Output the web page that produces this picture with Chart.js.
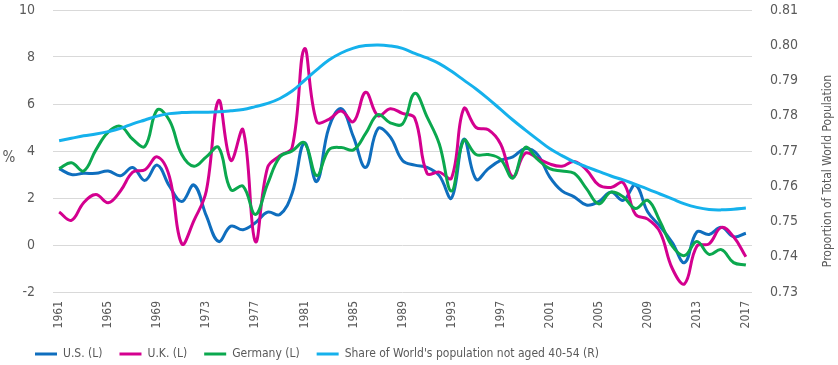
<!DOCTYPE html>
<html>
<head>
<meta charset="utf-8">
<script src="https://cdn.jsdelivr.net/npm/chart.js@4.4.1/dist/chart.umd.min.js"></script>
<style>
html, body { margin: 0; padding: 0; background: #fff; }
</style>
</head>
<body>
<canvas id="chart" width="838" height="365"></canvas>
<script>
const years = ['1961','1962','1963','1964','1965','1966','1967','1968','1969','1970',
  '1971','1972','1973','1974','1975','1976','1977','1978','1979','1980',
  '1981','1982','1983','1984','1985','1986','1987','1988','1989','1990',
  '1991','1992','1993','1994','1995','1996','1997','1998','1999','2000',
  '2001','2002','2003','2004','2005','2006','2007','2008','2009','2010',
  '2011','2012','2013','2014','2015','2016','2017'];

const shownYears = ['1961','1965','1969','1973','1977','1981','1985','1989',
  '1993','1997','2001','2005','2009','2013','2017'];

const usVals = [3.25, 3.0, 3.05, 3.05, 3.15, 2.95, 3.3, 2.75, 3.4, 2.5,
  1.85, 2.55, 1.25, 0.15, 0.8, 0.65, 0.95, 1.4, 1.3, 2.2,
  4.35, 2.7, 5.0, 5.8, 4.6, 3.3, 4.95, 4.6, 3.6, 3.4,
  3.3, 2.95, 2.0, 4.5, 2.8, 3.25, 3.6, 3.75, 4.1, 3.85,
  2.9, 2.3, 2.05, 1.7, 1.85, 2.25, 1.9, 2.55, 1.4, 0.8,
  0.1, -0.75, 0.55, 0.45, 0.75, 0.35, 0.5];

const ukVals = [1.4, 1.05, 1.8, 2.15, 1.8, 2.3, 3.1, 3.2, 3.75, 2.9,
  0.05, 1.05, 2.3, 6.15, 3.6, 4.9, 0.15, 3.3, 3.8, 4.15,
  8.35, 5.25, 5.35, 5.7, 5.25, 6.5, 5.5, 5.8, 5.6, 5.4,
  3.05, 3.1, 2.85, 5.8, 5.0, 4.9, 4.3, 2.9, 3.9, 3.7,
  3.45, 3.35, 3.55, 3.2, 2.55, 2.45, 2.65, 1.3, 1.1, 0.55,
  -1.0, -1.65, -0.05, 0.05, 0.75, 0.35, -0.5];

const germanyVals = [3.25, 3.5, 3.15, 4.05, 4.8, 5.05, 4.5, 4.2, 5.75, 5.3,
  3.85, 3.35, 3.75, 4.15, 2.35, 2.5, 1.3, 2.6, 3.75, 4.0,
  4.35, 2.95, 4.05, 4.15, 4.05, 4.75, 5.55, 5.2, 5.15, 6.45,
  5.45, 4.3, 2.3, 4.45, 3.85, 3.85, 3.65, 2.85, 4.15, 3.65,
  3.25, 3.15, 3.05, 2.4, 1.75, 2.25, 2.05, 1.55, 1.9, 1.0,
  -0.05, -0.45, 0.15, -0.4, -0.2, -0.75, -0.85];

const shareVals = [0.7729, 0.7736, 0.7743, 0.7748, 0.7755, 0.7764, 0.7777, 0.7788, 0.7799, 0.7806,
  0.7809, 0.7810, 0.7810, 0.7811, 0.7814, 0.7818, 0.7826, 0.7835, 0.7849, 0.7870,
  0.7900, 0.7930, 0.7958, 0.7978, 0.7992, 0.7999, 0.8001, 0.7998, 0.7991, 0.7977,
  0.7964, 0.7948, 0.7926, 0.7901, 0.7876, 0.7848, 0.7818, 0.7788, 0.7760, 0.7733,
  0.7707, 0.7687, 0.7669, 0.7655, 0.7642, 0.7629, 0.7618, 0.7605, 0.7592, 0.7578,
  0.7564, 0.7550, 0.7540, 0.7534, 0.7533, 0.7535, 0.7538];

const seriesNames = ['U.S. (L)', 'U.K. (L)', 'Germany (L)', "Share of World's population not aged 40-54 (R)"];
const seriesColors = ['#0f6ebe', '#d4008f', '#0ba84e', '#15b1ec'];

const fontFamily = '"Liberation Sans Narrow", "DejaVu Sans Condensed", sans-serif';
const textColor = '#5a5a5a';
Chart.defaults.font.family = fontFamily;
Chart.defaults.color = textColor;

function lineSet(i, values, axis, order) {
  return {
    label: seriesNames[i],
    data: values,
    yAxisID: axis,
    borderColor: seriesColors[i],
    backgroundColor: seriesColors[i],
    borderWidth: 3,
    pointRadius: 0,
    pointHoverRadius: 0,
    tension: 0.4,
    fill: false,
    order: order
  };
}

// "%" on the left and the rotated right-hand title
const axisTitles = {
  id: 'axisTitles',
  afterDraw(chart) {
    const c = chart.ctx;
    const y = chart.scales.y;
    c.save();
    c.fillStyle = textColor;
    c.textAlign = 'center';
    c.textBaseline = 'middle';
    c.font = '15px ' + fontFamily;
    c.fillText('%', 9, y.getPixelForValue(3.7));
    c.translate(828, 171);
    c.rotate(-Math.PI / 2);
    c.font = '12px ' + fontFamily;
    c.fillText('Proportion of Total World Population', 0, 0);
    c.restore();
  }
};

// fixed axis sizes so the plot area sits where the original one does
function fixWidth(w) {
  return function (s) {
    s.width = w;
    s.paddingTop = 0;
    s.paddingBottom = 0;
  };
}

const ctx = document.getElementById('chart').getContext('2d');
new Chart(ctx, {
  type: 'line',
  data: {
    labels: years,
    datasets: [
      lineSet(0, usVals, 'y', 4),
      lineSet(1, ukVals, 'y', 3),
      lineSet(2, germanyVals, 'y', 2),
      lineSet(3, shareVals, 'y1', 1)
    ]
  },
  options: {
    responsive: false,
    devicePixelRatio: 1,
    animation: false,
    layout: { padding: { left: 18, right: 0, top: 10, bottom: -5 } },
    plugins: {
      tooltip: { enabled: false },
      legend: {
        position: 'bottom',
        align: 'start',
        labels: {
          boxWidth: 22,
          boxHeight: 3,
          padding: 17,
          color: textColor,
          font: { size: 12 },
          generateLabels(chart) {
            const items = Chart.defaults.plugins.legend.labels.generateLabels(chart);
            items.sort((a, b) => a.datasetIndex - b.datasetIndex);
            items.forEach(it => { it.lineWidth = 0; it.fillStyle = it.strokeStyle; });
            return items;
          }
        }
      }
    },
    scales: {
      x: {
        type: 'category',
        offset: true,
        grid: { display: false, drawTicks: false },
        border: { display: false },
        ticks: {
          autoSkip: false,
          minRotation: 90,
          maxRotation: 90,
          padding: 9,
          font: { size: 12 },
          callback(val, i) {
            return shownYears.includes(years[i]) ? years[i] : '';
          }
        },
        afterFit(s) { s.height = 39; }
      },
      y: {
        position: 'left',
        min: -2,
        max: 10,
        ticks: { stepSize: 2, padding: 18, font: { size: 14 } },
        grid: { color: '#d9d9d9', lineWidth: 1, drawTicks: false },
        border: { display: false },
        afterFit: fixWidth(35)
      },
      y1: {
        position: 'right',
        min: 0.73,
        max: 0.81,
        ticks: {
          stepSize: 0.01,
          padding: 18,
          font: { size: 14 },
          callback(v) { return v.toFixed(2); }
        },
        grid: { display: false, drawTicks: false },
        border: { display: false },
        afterFit: fixWidth(86)
      }
    }
  },
  plugins: [axisTitles]
});
</script>
</body>
</html>
